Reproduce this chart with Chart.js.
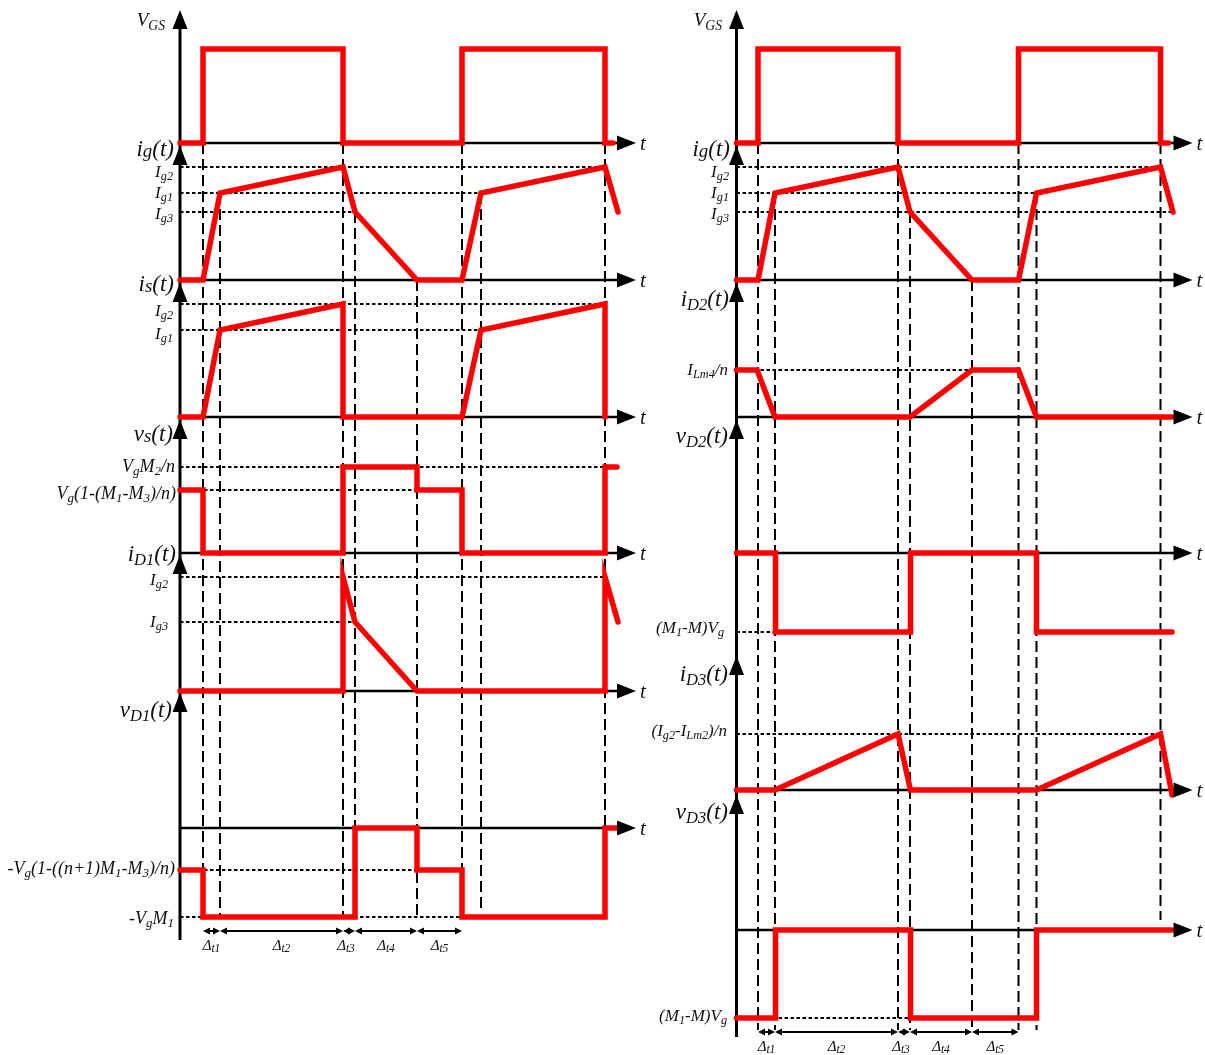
<!DOCTYPE html>
<html><head><meta charset="utf-8">
<script src="https://cdn.jsdelivr.net/npm/chart.js@4.4.1/dist/chart.umd.min.js"></script>
<style>
html,body{margin:0;padding:0;background:#fff;width:1205px;height:1055px;overflow:hidden}
canvas{position:absolute;top:0}
#cL{left:0}#cR{left:648px}
</style></head><body>
<canvas id="cL" width="648" height="1055"></canvas>
<canvas id="cR" width="557" height="1055"></canvas>
<script>
// ---------- DATA (time in arbitrary units, amplitude in arbitrary units) ----------
// left column event instants
const evL = [23, 40, 163, 175, 237, 282, 301, 425];
// right column event instants
const evR = [21.5, 38.5, 161.5, 173.5, 235.5, 282, 300, 424];

// left column waveforms
const vgsT = [0, 23, 23, 163, 163, 282, 282, 425, 425, 433];
const vgsV = [0, 0, 94, 94, 0, 0, 94, 94, 0, 0];
const igT  = [0, 23, 40, 163, 175, 237, 282, 301, 425, 438];
const igV  = [0, 0, 87, 113, 68, 0, 0, 87, 113, 68];
const isT  = [0, 23, 40, 163, 163, 282, 301, 425, 425];
const isV  = [0, 0, 87, 113, 0, 0, 87, 113, 0];
const vsT  = [0, 23, 23, 163, 163, 237, 237, 282, 282, 425, 425, 437];
const vsV  = [63, 63, 0, 0, 86, 86, 63, 63, 0, 0, 86, 86];
const id1T = [0, 163, 163, 175, 237, 425, 425, 438];
const id1V = [0, 0, 114, 69, 0, 0, 114, 69];
const vd1T = [0, 23, 23, 175, 175, 237, 237, 282, 282, 425, 425, 437];
const vd1V = [-42, -42, -89, -89, 0, 0, -42, -42, -89, -89, 0, 0];

// right column waveforms
const vgsRT = [0, 21.5, 21.5, 161.5, 161.5, 282, 282, 424, 424, 432];
const vgsRV = [0, 0, 94, 94, 0, 0, 94, 94, 0, 0];
const igRT  = [0, 21.5, 38.5, 161.5, 173.5, 235.5, 282, 300, 424, 436.5];
const igRV  = [0, 0, 87, 113, 68, 0, 0, 87, 113, 68];
const id2T  = [0, 20.5, 38.5, 173.5, 235.5, 282, 300, 435.5];
const id2V  = [47, 47, 0, 0, 47, 47, 0, 0];
const vd2T  = [0, 39, 39, 174, 174, 300, 300, 435.5];
const vd2V  = [0, 0, -79, -79, 0, 0, -79, -79];
const id3T  = [0, 38.5, 161.5, 174, 300, 424, 435.5];
const id3V  = [0, 0, 56, 0, 0, 56, -5];
const vd3T  = [0, 39, 39, 174, 174, 300, 300, 435.5];
const vd3V  = [-88, -88, 0, 0, -88, -88, 0, 0];

// dotted reference levels: [panel, level, end time]
const refsL = [['ig',113,425],['ig',87,301],['ig',68,175],['is',113,425],['is',87,301],
               ['vs',86,425],['vs',63,237],['id1',114,425],['id1',69,175],['vd1',-42,237],['vd1',-89,282]];
const refsR = [['ig',113,424],['ig',87,300],['ig',68,436.5],['id2',47,282],['vd2',-79,174],
               ['id3',56,424],['vd3',-88,174]];

// ---------- LAYOUT ----------
const baseL = {vgs:143, ig:280, is:417, vs:553, id1:691, vd1:828};
const baseR = {vgs:143, ig:280, id2:417, vd2:553, id3:790, vd3:930};
const dashTopL = [143,193,143,212,280,143,193,143], dashBotL = [915,915,915,915,915,915,910,910];
const dashTopR = [143,193,143,212,280,143,193,143], dashBotR = [1030,1030,1030,1030,1030,1030,1030,920];
const arrowsL = [10,146,283,420,555,693], arrowsR = [10,146,283,420,656,795];

const N = (t)=>[t,1,0], S = (t)=>[t,0.72,0.16];
const F = 'italic %spx "Liberation Serif", "Times New Roman", serif';

const labelsL = [
  {p:[N('V'),S('GS')], x:165, y:20, s:19},
  {p:[N('i'),['g',0.82,0.05],N('(t)')], x:174, y:148, s:23},
  {p:[N('I'),S('g2')], x:173, y:171, s:17},
  {p:[N('I'),S('g1')], x:173, y:192, s:17},
  {p:[N('I'),S('g3')], x:173, y:213, s:17},
  {p:[N('i'),['s',0.82,0.05],N('(t)')], x:174, y:283, s:23},
  {p:[N('I'),S('g2')], x:173, y:310, s:17},
  {p:[N('I'),S('g1')], x:173, y:333, s:17},
  {p:[N('v'),['s',0.82,0.05],N('(t)')], x:173, y:433, s:23},
  {p:[N('V'),S('g'),N('M'),S('2'),N('/n')], x:175, y:466, s:18},
  {p:[N('V'),S('g'),N('(1-(M'),S('1'),N('-M'),S('3'),N(')/n)')], x:176, y:493, s:18},
  {p:[N('i'),S('D1'),N('(t)')], x:176, y:553, s:23},
  {p:[N('I'),S('g2')], x:168, y:579, s:17},
  {p:[N('I'),S('g3')], x:168, y:621, s:17},
  {p:[N('v'),S('D1'),N('(t)')], x:172, y:709, s:23},
  {p:[N('-V'),S('g'),N('(1-((n+1)M'),S('1'),N('-M'),S('3'),N(')/n)')], x:175, y:868, s:18},
  {p:[N('-V'),S('g'),N('M'),S('1')], x:174, y:918, s:18}
];
const labelsR = [
  {p:[N('V'),S('GS')], x:722, y:20, s:19},
  {p:[N('i'),['g',0.82,0.05],N('(t)')], x:730, y:148, s:23},
  {p:[N('I'),S('g2')], x:729, y:171, s:17},
  {p:[N('I'),S('g1')], x:729, y:192, s:17},
  {p:[N('I'),S('g3')], x:729, y:213, s:17},
  {p:[N('i'),S('D2'),N('(t)')], x:729, y:298, s:23},
  {p:[N('I'),S('Lm4'),N('/n')], x:728, y:369, s:17},
  {p:[N('v'),S('D2'),N('(t)')], x:728, y:435, s:23},
  {p:[N('(M'),S('1'),N('-M)V'),S('g')], x:724, y:627, s:17},
  {p:[N('i'),S('D3'),N('(t)')], x:728, y:673, s:23},
  {p:[N('(I'),S('g2'),N('-I'),S('Lm2'),N(')/n')], x:727, y:730, s:17},
  {p:[N('v'),S('D3'),N('(t)')], x:728, y:811, s:23},
  {p:[N('(M'),S('1'),N('-M)V'),S('g')], x:727, y:1015, s:17}
];

function rich(ctx, parts, xR, yC, size){
  let w = 0;
  parts.forEach(p=>{ctx.font=F.replace('%s',size*p[1]);w+=ctx.measureText(p[0]).width;});
  let x = xR - w; const yb = yC + size*0.34;
  ctx.fillStyle='#111';ctx.textBaseline='alphabetic';ctx.textAlign='left';
  parts.forEach(p=>{ctx.font=F.replace('%s',size*p[1]);ctx.fillText(p[0],x,yb+p[2]*size);x+=ctx.measureText(p[0]).width;});
}

function column(id, pageLeft, origin, base, traces, refs, ev, dTop, dBot, arrows, axisBottom, labels, deltaY){
  const datasets = [];
  traces.forEach(tr=>{
    datasets.push({data: tr[1].map((t,i)=>({x:t, y: base[tr[0]] - tr[2][i]})), showLine:true,
      borderColor:'#ff0000', borderWidth:5.5, pointRadius:0, tension:0, fill:false,
      borderJoinStyle:'miter', borderCapStyle:'round', order:0});
  });
  refs.forEach(r=>{
    datasets.push({data:[{x:0,y:base[r[0]]-r[1]},{x:r[2],y:base[r[0]]-r[1]}], showLine:true,
      borderColor:'#000', borderWidth:1.8, borderDash:[3.5,2.5], pointRadius:0, fill:false, order:2});
  });
  ev.forEach((t,i)=>{
    datasets.push({data:[{x:t,y:dTop[i]},{x:t,y:dBot[i]}], showLine:true,
      borderColor:'#000', borderWidth:2, borderDash:[11,5], pointRadius:0, fill:false, order:3});
  });
  const hBases = Object.values(base);
  const plug = {
    id:'diagram'+id,
    beforeDatasetsDraw(chart){
      const c=chart.ctx, xs=chart.scales.x, ys=chart.scales.y;
      const x0=xs.getPixelForValue(0);
      c.save(); c.strokeStyle='#000'; c.fillStyle='#000';
      c.lineWidth=2.5;
      hBases.forEach(b=>{const y=ys.getPixelForValue(b);c.beginPath();c.moveTo(x0,y);c.lineTo(xs.getPixelForValue(442),y);c.stroke();});
      c.lineWidth=3;c.beginPath();c.moveTo(x0,ys.getPixelForValue(arrows[0]+6));c.lineTo(x0,ys.getPixelForValue(axisBottom));c.stroke();
      c.restore();
    },
    afterDatasetsDraw(chart){
      const c=chart.ctx, xs=chart.scales.x, ys=chart.scales.y;
      const x0=xs.getPixelForValue(0);
      c.save(); c.fillStyle='#000';
      arrows.forEach(a=>{const y=ys.getPixelForValue(a);c.beginPath();c.moveTo(x0,y);c.lineTo(x0-7.5,y+19);c.lineTo(x0+7.5,y+19);c.closePath();c.fill();});
      hBases.forEach(b=>{const y=ys.getPixelForValue(b);const xe=xs.getPixelForValue(456);
        c.beginPath();c.moveTo(xe,y);c.lineTo(xe-19,y-7.5);c.lineTo(xe-19,y+7.5);c.closePath();c.fill();
        c.font=F.replace('%s',21);c.fillStyle='#111';c.textAlign='left';c.fillText('t',xe+4,y+7);c.fillStyle='#000';});
      const dy=ys.getPixelForValue(deltaY);
      const bnd=[ev[0],ev[1],ev[2],ev[3],ev[4],ev[5]];
      c.strokeStyle='#000';c.lineWidth=2;
      for(let i=0;i<5;i++){
        const a=xs.getPixelForValue(bnd[i]),b=xs.getPixelForValue(bnd[i+1]);
        c.beginPath();c.moveTo(a+2,dy);c.lineTo(b-2,dy);c.stroke();
        c.beginPath();c.moveTo(a,dy);c.lineTo(a+7,dy-3.5);c.lineTo(a+7,dy+3.5);c.closePath();c.fill();
        c.beginPath();c.moveTo(b,dy);c.lineTo(b-7,dy-3.5);c.lineTo(b-7,dy+3.5);c.closePath();c.fill();
        const mid=(a+b)/2, sub='t'+(i+1);
        c.font=F.replace('%s',15);const w1=c.measureText('Δ').width;
        c.font=F.replace('%s',11.5);const w2=c.measureText(sub).width;
        let lx=mid-(w1+w2)/2+ (i===2?-3:0);
        c.fillStyle='#111';
        c.font=F.replace('%s',15);c.fillText('Δ',lx,dy+19);
        c.font=F.replace('%s',11.5);c.fillText(sub,lx+w1,dy+21);
        c.fillStyle='#000';
      }
      labels.forEach(l=>rich(c,l.p,l.x-pageLeft,ys.getPixelForValue(l.y),l.s));
      c.restore();
    }
  };
  const cv=document.getElementById(id);
  new Chart(cv,{type:'scatter',data:{datasets},
    options:{responsive:false,animation:false,devicePixelRatio:1,events:[],layout:{padding:0},
      plugins:{legend:{display:false},tooltip:{enabled:false}},
      scales:{x:{type:'linear',min:-(origin-pageLeft),max:cv.width-(origin-pageLeft),display:false},
              y:{type:'linear',min:0,max:1055,reverse:true,display:false}}},
    plugins:[plug]});
}

column('cL',0,180,baseL,
  [['vgs',vgsT,vgsV],['ig',igT,igV],['is',isT,isV],['vs',vsT,vsV],['id1',id1T,id1V],['vd1',vd1T,vd1V]],
  refsL, evL, dashTopL, dashBotL, arrowsL, 940, labelsL, 931);
column('cR',648,736.5,baseR,
  [['vgs',vgsRT,vgsRV],['ig',igRT,igRV],['id2',id2T,id2V],['vd2',vd2T,vd2V],['id3',id3T,id3V],['vd3',vd3T,vd3V]],
  refsR, evR, dashTopR, dashBotR, arrowsR, 1037, labelsR, 1032);
</script></body></html>
